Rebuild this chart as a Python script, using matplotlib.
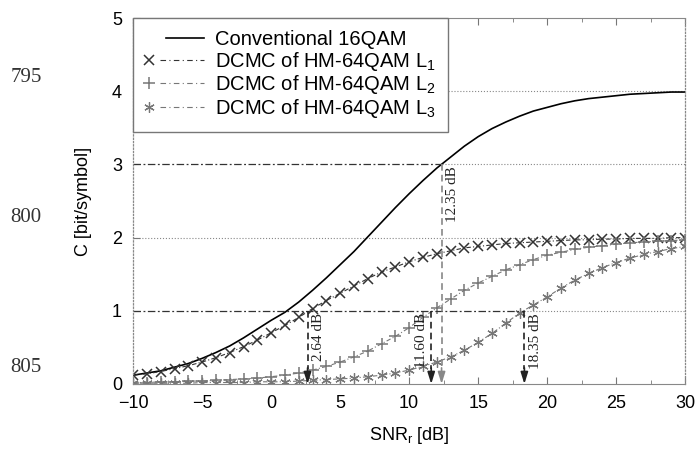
import matplotlib
matplotlib.use("Agg")
import matplotlib.pyplot as plt
from matplotlib.lines import Line2D
from matplotlib.legend_handler import HandlerBase
import numpy as np

plt.rcParams['font.family'] = ['Liberation Sans', 'DejaVu Sans']

snr = np.arange(-10, 31)  # dB, one point per dB

conv_16qam = [0.12, 0.15, 0.18, 0.23, 0.28, 0.35, 0.43, 0.52, 0.63, 0.75,
              0.87, 0.98, 1.12, 1.28, 1.45, 1.63, 1.81, 2.01, 2.21, 2.41,
              2.60, 2.78, 2.95, 3.10, 3.25, 3.38, 3.49, 3.58, 3.66, 3.73,
              3.78, 3.83, 3.87, 3.90, 3.92, 3.94, 3.96, 3.97, 3.98, 3.99, 3.99]
dcmc_l1 = [0.12, 0.14, 0.17, 0.21, 0.25, 0.30, 0.36, 0.43, 0.51, 0.60,
           0.70, 0.80, 0.91, 1.03, 1.14, 1.24, 1.34, 1.44, 1.53, 1.60,
           1.67, 1.73, 1.78, 1.82, 1.86, 1.88, 1.90, 1.92, 1.93, 1.94,
           1.95, 1.96, 1.97, 1.97, 1.98, 1.98, 1.99, 1.99, 1.99, 2.00, 2.00]
dcmc_l2 = [0.02, 0.02, 0.03, 0.03, 0.04, 0.04, 0.05, 0.06, 0.07, 0.08,
           0.10, 0.12, 0.15, 0.19, 0.24, 0.30, 0.37, 0.45, 0.55, 0.65,
           0.77, 0.91, 1.04, 1.16, 1.28, 1.38, 1.47, 1.56, 1.63, 1.70,
           1.76, 1.80, 1.84, 1.87, 1.89, 1.91, 1.93, 1.94, 1.95, 1.96, 1.97]
dcmc_l3 = [0.01, 0.01, 0.01, 0.01, 0.01, 0.02, 0.02, 0.02, 0.02, 0.03,
           0.03, 0.03, 0.04, 0.05, 0.06, 0.07, 0.08, 0.10, 0.12, 0.15,
           0.19, 0.24, 0.30, 0.37, 0.46, 0.57, 0.69, 0.83, 0.97, 1.08,
           1.19, 1.31, 1.42, 1.51, 1.59, 1.66, 1.72, 1.77, 1.81, 1.85, 1.88]

# threshold markers: (snr, capacity level, colour)
thresholds = [(2.64, 1, '#222222'), (11.60, 1, '#222222'),
              (12.35, 3, '#888888'), (18.35, 1, '#222222')]
thr_labels = ['2.64 dB', '11.60 dB', '12.35 dB', '18.35 dB']

labels = ['Conventional 16QAM',
          r'DCMC of HM-64QAM L$_\mathregular{1}$',
          r'DCMC of HM-64QAM L$_\mathregular{2}$',
          r'DCMC of HM-64QAM L$_\mathregular{3}$']


class MarkerThenLine(HandlerBase):
    # gnuplot-like legend entry: marker on the left, line sample on the right
    def create_artists(self, legend, orig, xdescent, ydescent, width, height, fontsize, trans):
        y = height / 2 - ydescent
        x0 = -xdescent
        has_marker = orig.get_marker() not in (None, 'None', '', ' ')
        ls = (0, (5, 3, 1, 3)) if has_marker else '-'
        start = 0.26 if has_marker else 0.36
        seg = Line2D([x0 + start * width, x0 + width], [y, y], color=orig.get_color(),
                     linestyle=ls, linewidth=orig.get_linewidth())
        seg.set_transform(trans)
        arts = [seg]
        if has_marker:
            mk = Line2D([x0 + 0.06 * width], [y], linestyle='None', marker=orig.get_marker(),
                        markersize=orig.get_markersize(), color=orig.get_color(),
                        markeredgewidth=orig.get_markeredgewidth())
            mk.set_transform(trans)
            arts.append(mk)
        return arts


fig = plt.figure(figsize=(6.97, 4.5), dpi=100)
ax = fig.add_axes([0.191, 0.1467, 0.792, 0.813])

dashdot = (0, (4, 2, 1, 2))
l0, = ax.plot(snr, conv_16qam, color='black', lw=1.2, label=labels[0])
l1, = ax.plot(snr, dcmc_l1, color='#333333', lw=0.8, ls=dashdot, marker='x',
              ms=7.5, mew=1.1, label=labels[1])
l2, = ax.plot(snr, dcmc_l2, color='#777777', lw=0.8, ls=dashdot, marker='+',
              ms=8, mew=1.1, label=labels[2])
l3, = ax.plot(snr, dcmc_l3, color='#777777', lw=0.8, ls=dashdot, marker=(6, 2, 0),
              ms=7.5, mew=0.9, label=labels[3])

# grid (dotted), with the threshold lines drawn dash-dot up to their crossing
ax.hlines([2, 4], -10, 30, colors='#888888', linestyles=':', lw=0.8, zorder=0)
ax.hlines([1, 3], [18.35, 12.35], 30, colors='#888888', linestyles=':', lw=0.8, zorder=0)
ax.hlines([1], -10, 18.35, colors='#333333', linestyles=[(0, (6, 2, 1.5, 2))], lw=0.9)
ax.hlines([3], -10, 12.35, colors='#333333', linestyles=[(0, (6, 2, 1.5, 2))], lw=0.9)

for (x, lev, col), txt in zip(thresholds, thr_labels):
    ax.plot([x, x], [lev, 0.2], color=col, ls=(0, (4, 2.5)), lw=1.2)
    ax.annotate('', xy=(x, 0), xytext=(x, 0.22),
                arrowprops=dict(arrowstyle='-|>,head_length=0.7,head_width=0.22',
                                color=col, lw=1.2, shrinkA=0, shrinkB=0))
    if txt == '11.60 dB':
        tx, ha = x - 0.2, 'right'
    else:
        tx, ha = x + 0.3, 'left'
    ty = lev - 0.03
    ax.text(tx, ty, txt, rotation=90, ha=ha, va='top', fontsize=11,
            family='Liberation Serif', color='#222222')

ax.set_xlim(-10, 30)
ax.set_ylim(0, 5)
ax.set_xticks(np.arange(-10, 31, 5))
ax.set_xticks(np.arange(-10, 31, 2.5), minor=True)
ax.set_yticks(np.arange(0, 6, 1))
ax.set_xticklabels(['\u221210', '\u22125', '0', '5', '10', '15', '20', '25', '30'])
ax.tick_params(which='both', direction='in', top=True, right=False, color='#777777',
               labelsize=13, labelcolor='black', pad=8)
ax.tick_params(which='major', length=5)
ax.tick_params(which='minor', length=3)
ax.set_xlabel(r'SNR$_\mathregular{r}$ [dB]', fontsize=13, labelpad=9)
ax.set_ylabel('C [bit/symbol]', fontsize=13, labelpad=14)

for side in ['top', 'bottom']:
    ax.spines[side].set_color('#888888')
for side in ['left', 'right']:
    ax.spines[side].set_color('#888888')
    ax.spines[side].set_linestyle(':')
    ax.spines[side].set_linewidth(0.9)

handler = MarkerThenLine()
leg = ax.legend([l0, l1, l2, l3], labels, loc='upper left', bbox_to_anchor=(0, 1),
                borderaxespad=0, fontsize=14.5, handlelength=2.9, handletextpad=0.55,
                labelspacing=0.03, borderpad=0.6, fancybox=False, framealpha=1,
                edgecolor='#777777',
                handler_map={l0: handler, l1: handler, l2: handler, l3: handler})
leg.get_frame().set_linewidth(1.0)

# page line numbers from the scanned paper margin
for ypix, num in [(77, '795'), (217, '800'), (368, '805')]:
    fig.text(26 / 697, 1 - ypix / 450, num, ha='center', va='center', fontsize=15,
             family='Liberation Serif', color='#333333')

plt.savefig('out.png', dpi=100)
plt.close()
